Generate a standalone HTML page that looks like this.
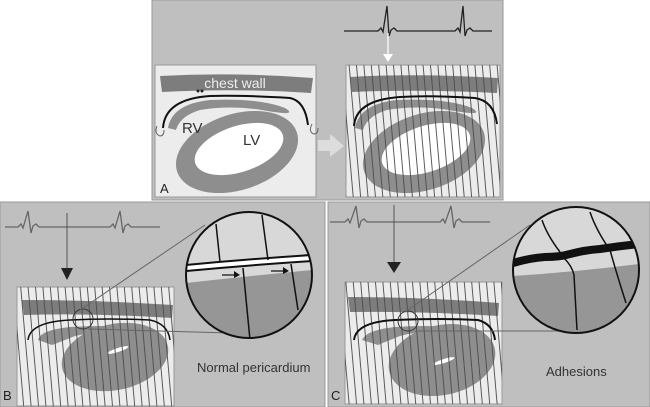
<!DOCTYPE html>
<html><head><style>body{margin:0;background:#fff}svg{display:block}</style></head><body>
<svg width="650" height="407" viewBox="0 0 650 407" xmlns="http://www.w3.org/2000/svg" font-family="Liberation Sans, sans-serif">
<defs>
<pattern id="h" width="7.4" height="10" patternUnits="userSpaceOnUse" patternTransform="skewX(5)">
<line x1="3" y1="0" x2="3" y2="10" stroke="#4a4a4a" stroke-width="0.9"/></pattern>
<clipPath id="cr"><rect x="346" y="65" width="154" height="132"/></clipPath>
<clipPath id="cb"><rect x="17" y="287" width="157" height="119"/></clipPath>
<clipPath id="cc"><rect x="345" y="282" width="157" height="122"/></clipPath>
<clipPath id="mb"><circle cx="249" cy="275" r="63"/></clipPath>
<clipPath id="mc"><circle cx="576" cy="270" r="63"/></clipPath>
</defs>
<rect x="152" y="0" width="351" height="200" fill="#bfbfbf" stroke="#999"/>
<path d="M344,31 L378,31 L381,28 L383,32 L387,6 L389,36 L391,30 L394,28 L397,31 L455,31 L458,28 L460,32 L463,6 L465,36 L467,30 L470,28 L473,31 L492,31" fill="none" stroke="#222" stroke-width="1.3"/>
<line x1="388" y1="33" x2="388" y2="56" stroke="#fff" stroke-width="1.3"/>
<path d="M383,54 L393,54 L388,62z" fill="#fff"/>
<rect x="155" y="65" width="161" height="132" fill="#ececec" stroke="#999"/>
<path d="M160,76 Q236,72 313,78 L311,93 Q236,88 162,92z" fill="#7d7d7d"/>
<text x="235" y="88" font-size="14" fill="#eee" text-anchor="middle">chest wall</text>
<circle cx="198" cy="91" r="1.5" fill="#222"/><circle cx="202" cy="91" r="1.5" fill="#222"/>
<path d="M168,128 Q172,104 210,100 Q260,98 285,108 Q300,117 262,110 Q230,105 200,110 Q180,116 176,130z" fill="#8e8e8e"/>
<ellipse cx="237" cy="152" rx="63" ry="38" transform="rotate(-18 237 152)" fill="#8e8e8e"/>
<ellipse cx="239" cy="149" rx="46" ry="23" transform="rotate(-18 239 149)" fill="#fff"/>
<path d="M163,128 Q165,99 210,96 Q240,95 290,98 Q305,101 308,125" fill="none" stroke="#111" stroke-width="2"/>
<text x="182" y="133" font-size="15" fill="#333">RV</text>
<text x="243" y="145" font-size="15" fill="#333">LV</text>
<text x="160" y="193" font-size="13" fill="#222">A</text>
<path d="M157,126 q-3,8 3,10 q4,0 4,-6" fill="none" stroke="#666"/>
<path d="M312,124 q-4,8 2,10 q4,0 4,-6" fill="none" stroke="#666"/>
<path d="M318,140 L330,140 L330,134 L344,146 L330,157 L330,151 L318,151z" fill="#ddd"/>
<rect x="346" y="65" width="154" height="132" fill="#ececec" stroke="#999"/>
<g clip-path="url(#cr)">
<path d="M350,77 Q420,73 498,78 L497,93 Q420,89 352,92z" fill="#7d7d7d"/>
<path d="M355,128 Q359,104 397,100 Q447,98 472,108 Q487,117 449,110 Q417,105 387,110 Q367,116 363,130z" fill="#8e8e8e"/>
<ellipse cx="424" cy="152" rx="63" ry="38" transform="rotate(-18 424 152)" fill="#8e8e8e"/>
<ellipse cx="426" cy="149" rx="46" ry="23" transform="rotate(-18 426 149)" fill="#fff"/>
<rect x="346" y="65" width="154" height="132" fill="url(#h)"/>
<path d="M354,126 Q356,100 400,97 Q430,95 475,98 Q494,101 497,124" fill="none" stroke="#111" stroke-width="2"/>
</g>
<rect x="0" y="202" width="325" height="205" fill="#bfbfbf" stroke="#999"/>
<path d="M5,227 L18,227 L21,224 L23,228 L28,211 L31,233 L33,226 L36,224 L39,227 L110,227 L113,224 L115,228 L120,211 L123,233 L125,226 L128,224 L131,227 L160,227" fill="none" stroke="#666" stroke-width="1.3"/>
<line x1="67" y1="213" x2="67" y2="270" stroke="#555"/>
<path d="M61,268 L73,268 L67,280z" fill="#222"/>
<rect x="17" y="287" width="157" height="119" fill="#ececec" stroke="#999"/>
<g clip-path="url(#cb)">
<path d="M22,300 Q95,300 173,305 L172,318 Q95,313 24,315z" fill="#7d7d7d"/>
<path d="M38,340 Q40,330 70,327 Q120,324 150,330 L140,333 Q100,330 75,336 Q60,342 52,345z" fill="#8e8e8e"/>
<ellipse cx="115" cy="357" rx="54" ry="33" transform="rotate(-12 115 357)" fill="#8e8e8e"/>
<ellipse cx="118" cy="350" rx="11" ry="2" transform="rotate(-18 118 350)" fill="#fff"/>
<rect x="17" y="287" width="157" height="119" fill="url(#h)"/>
<path d="M28,340 Q30,322 70,320 Q110,318 150,320 Q168,324 170,340" fill="none" stroke="#111" stroke-width="1.5"/>
</g>
<circle cx="83" cy="319" r="10" fill="none" stroke="#333"/>
<line x1="80" y1="310" x2="205" y2="225" stroke="#666"/>
<line x1="88" y1="329" x2="230" y2="333" stroke="#666"/>
<g clip-path="url(#mb)">
<rect x="186" y="212" width="126" height="126" fill="#d8d8d8"/>
<path d="M186,283 Q250,276 312,270 L312,338 L186,338z" fill="#969696"/>
<path d="M186,268 Q250,262 312,258" fill="none" stroke="#111" stroke-width="8"/>
<path d="M186,268 Q250,262 312,258" fill="none" stroke="#fff" stroke-width="4"/>
<line x1="216" y1="224" x2="220" y2="262" stroke="#111" stroke-width="1.5"/>
<line x1="262" y1="215" x2="268" y2="260" stroke="#111" stroke-width="1.5"/>
<line x1="243" y1="268" x2="250" y2="340" stroke="#111" stroke-width="1.5"/>
<line x1="291" y1="264" x2="298" y2="310" stroke="#111" stroke-width="1.5"/>
<path d="M222,275 L236,275" stroke="#111" stroke-width="1.3"/><path d="M234,271 L240,275 L234,278z" fill="#111"/>
<path d="M271,271 L285,271" stroke="#111" stroke-width="1.3"/><path d="M283,267 L289,271 L283,274z" fill="#111"/>
</g>
<circle cx="249" cy="275" r="63" fill="none" stroke="#111" stroke-width="2"/>
<text x="197" y="372" font-size="13" fill="#333">Normal pericardium</text>
<text x="3" y="400" font-size="13" fill="#222">B</text>
<rect x="328" y="202" width="322" height="205" fill="#bfbfbf" stroke="#999"/>
<path d="M330,222 L345,222 L348,219 L350,223 L356,206 L359,228 L361,221 L364,219 L367,222 L440,222 L443,219 L445,223 L451,206 L454,228 L456,221 L459,219 L462,222 L490,222" fill="none" stroke="#666" stroke-width="1.3"/>
<line x1="394" y1="205" x2="394" y2="262" stroke="#555"/>
<path d="M387,262 L401,262 L394,273z" fill="#222"/>
<rect x="345" y="282" width="157" height="122" fill="#ececec" stroke="#999"/>
<g clip-path="url(#cc)">
<path d="M348,297 Q420,297 499,303 L498,316 Q420,311 350,312z" fill="#7d7d7d"/>
<path d="M362,340 Q366,330 395,327 Q440,324 470,330 L460,333 Q420,330 400,336 Q385,342 378,345z" fill="#8e8e8e"/>
<ellipse cx="442" cy="360" rx="54" ry="35" transform="rotate(-12 442 360)" fill="#8e8e8e"/>
<ellipse cx="444" cy="361" rx="11" ry="2" transform="rotate(-18 444 361)" fill="#fff"/>
<rect x="345" y="282" width="157" height="122" fill="url(#h)"/>
<path d="M354,340 Q356,322 395,320 Q440,318 478,320 Q493,324 495,340" fill="none" stroke="#111" stroke-width="2"/>
</g>
<circle cx="408" cy="321" r="10" fill="none" stroke="#333"/>
<line x1="405" y1="312" x2="530" y2="225" stroke="#666"/>
<line x1="415" y1="331" x2="560" y2="331" stroke="#666"/>
<g clip-path="url(#mc)">
<rect x="513" y="207" width="126" height="126" fill="#d8d8d8"/>
<path d="M513,276 Q575,272 639,264 L639,333 L513,333z" fill="#969696"/>
<path d="M513,263 Q530,258 545,257 Q560,257 570,254 Q585,250 600,249 Q620,246 639,244" fill="none" stroke="#111" stroke-width="8"/>
<path d="M542,220 Q547,235 560,252" fill="none" stroke="#111" stroke-width="1.5"/>
<path d="M590,212 Q596,230 610,250 Q617,275 626,303" fill="none" stroke="#111" stroke-width="1.5"/>
<path d="M564,258 Q572,266 574,275 L577,330" fill="none" stroke="#111" stroke-width="1.5"/>
</g>
<circle cx="576" cy="270" r="63" fill="none" stroke="#111" stroke-width="2"/>
<text x="546" y="376" font-size="13" fill="#333">Adhesions</text>
<text x="331" y="400" font-size="13" fill="#222">C</text>
</svg>
</body></html>
